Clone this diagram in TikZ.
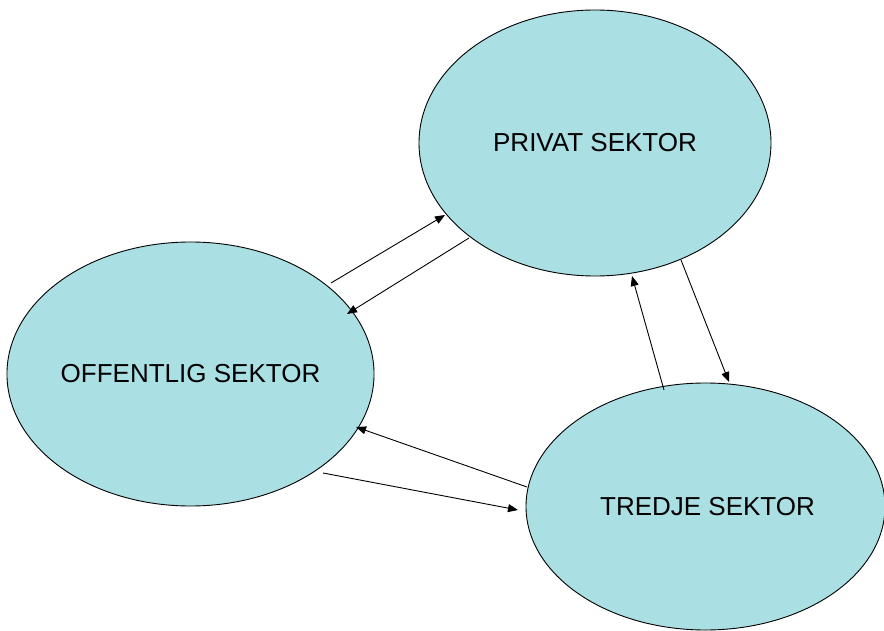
\documentclass[tikz,border=0pt]{standalone}
\usepackage{fontspec}
\setmainfont{Liberation Sans}
\usetikzlibrary{shapes.geometric,arrows.meta}
\definecolor{sektorfill}{HTML}{AADFE3}
\begin{document}
\begin{tikzpicture}[x=1pt,y=-1pt,
  sektor/.style={ellipse,draw=black,line width=0.9pt,fill=sektorfill,inner sep=0pt,
    font=\fontsize{26}{30}\selectfont},
  flow/.style={line width=0.9pt,-{Triangle[length=10pt,width=8pt]}}]
\useasboundingbox (0,0) rectangle (884,631);
\node[sektor,minimum width=352pt,minimum height=266pt] (privat) at (595,143) {PRIVAT SEKTOR};
\node[sektor,minimum width=363pt,minimum height=264pt] (offentlig) at (190.5,374) {OFFENTLIG SEKTOR};
\node[sektor,minimum width=359pt,minimum height=247pt] (tredje) at (705.5,506.5) {\hspace*{4pt}TREDJE SEKTOR};
\coordinate (a1s) at (331,283); \coordinate (a1e) at (445,215);
\coordinate (a2s) at (469,238); \coordinate (a2e) at (347,314);
\coordinate (a3s) at (681,260); \coordinate (a3e) at (729,382);
\coordinate (a4s) at (664,390); \coordinate (a4e) at (632,276);
\coordinate (a5s) at (527,487); \coordinate (a5e) at (356,427);
\coordinate (a6s) at (323,473); \coordinate (a6e) at (518,510);
\draw[flow] (a1s) -- (a1e);
\draw[flow] (a2s) -- (a2e);
\draw[flow] (a3s) -- (a3e);
\draw[flow] (a4s) -- (a4e);
\draw[flow] (a5s) -- (a5e);
\draw[flow] (a6s) -- (a6e);
\end{tikzpicture}
\end{document}
